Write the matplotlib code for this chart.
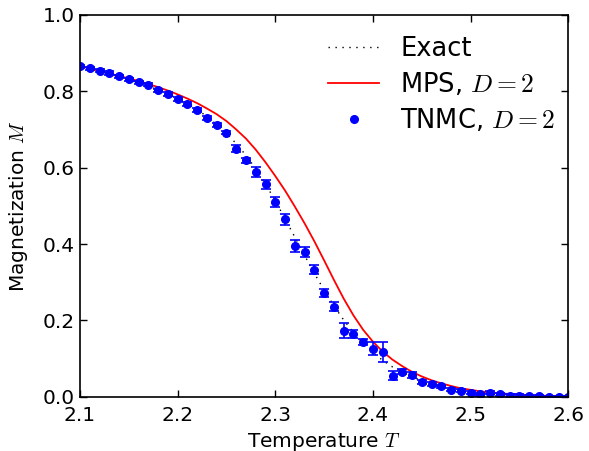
import matplotlib
matplotlib.use("Agg")
import matplotlib.pyplot as plt
import numpy as np

plt.rcParams['mathtext.fontset'] = 'cm'
plt.rcParams['font.family'] = ['DejaVu Sans']

# Exact curve
T_exact = [2.10, 2.11, 2.12, 2.13, 2.14, 2.15, 2.16, 2.17, 2.18, 2.19, 2.20,
           2.21, 2.22, 2.23, 2.24, 2.25, 2.26, 2.27, 2.28, 2.29, 2.30,
           2.31, 2.32, 2.33, 2.34, 2.35, 2.36, 2.37, 2.38, 2.39, 2.40,
           2.41, 2.42, 2.43, 2.44, 2.45, 2.46, 2.47, 2.48, 2.49, 2.50,
           2.51, 2.52, 2.53, 2.54, 2.55, 2.56, 2.57, 2.58, 2.59, 2.60]
M_exact = [0.866, 0.859, 0.852, 0.845, 0.838, 0.830, 0.822, 0.814, 0.804, 0.793, 0.781,
           0.768, 0.752, 0.734, 0.713, 0.690, 0.663, 0.632, 0.597, 0.557, 0.513,
           0.466, 0.418, 0.370, 0.323, 0.279, 0.238, 0.201, 0.168, 0.140, 0.116,
           0.095, 0.078, 0.064, 0.052, 0.042, 0.034, 0.027, 0.022, 0.017, 0.013,
           0.010, 0.008, 0.006, 0.005, 0.004, 0.003, 0.002, 0.002, 0.001, 0.001]

# MPS, D=2
T_mps = [2.10, 2.11, 2.12, 2.13, 2.14, 2.15, 2.16, 2.17, 2.18, 2.19, 2.20,
         2.21, 2.22, 2.23, 2.24, 2.25, 2.26, 2.27, 2.28, 2.29, 2.30,
         2.31, 2.32, 2.33, 2.34, 2.35, 2.36, 2.37, 2.38, 2.39, 2.40,
         2.41, 2.42, 2.43, 2.44, 2.45, 2.46, 2.47, 2.48, 2.49, 2.50,
         2.51, 2.52, 2.53, 2.54, 2.55, 2.56, 2.57, 2.58, 2.59, 2.60]
M_mps = [0.866, 0.860, 0.853, 0.847, 0.840, 0.834, 0.827, 0.819, 0.811, 0.802, 0.792,
         0.781, 0.769, 0.755, 0.740, 0.722, 0.700, 0.676, 0.647, 0.614, 0.578,
         0.540, 0.498, 0.454, 0.407, 0.357, 0.306, 0.257, 0.213, 0.175, 0.144,
         0.118, 0.097, 0.080, 0.065, 0.053, 0.043, 0.035, 0.028, 0.022, 0.018,
         0.014, 0.011, 0.009, 0.007, 0.005, 0.004, 0.003, 0.002, 0.001, 0.001]

# TNMC, D=2
T_mc = [2.10, 2.11, 2.12, 2.13, 2.14, 2.15, 2.16, 2.17, 2.18, 2.19, 2.20,
        2.21, 2.22, 2.23, 2.24, 2.25, 2.26, 2.27, 2.28, 2.29, 2.30,
        2.31, 2.32, 2.33, 2.34, 2.35, 2.36, 2.37, 2.38, 2.39, 2.40,
        2.41, 2.42, 2.43, 2.44, 2.45, 2.46, 2.47, 2.48, 2.49, 2.50,
        2.51, 2.52, 2.53, 2.54, 2.55, 2.56, 2.57, 2.58, 2.59, 2.60]
M_mc = [0.866, 0.860, 0.854, 0.848, 0.839, 0.832, 0.824, 0.817, 0.803, 0.793, 0.781,
        0.767, 0.751, 0.730, 0.711, 0.692, 0.650, 0.619, 0.588, 0.556, 0.510,
        0.465, 0.395, 0.379, 0.333, 0.271, 0.236, 0.173, 0.164, 0.143, 0.125,
        0.118, 0.055, 0.066, 0.057, 0.039, 0.034, 0.027, 0.018, 0.016, 0.010,
        0.006, 0.011, 0.006, 0.003, 0.003, 0.002, 0.001, 0.000, 0.000, 0.000]
E_mc = [0.004, 0.004, 0.004, 0.004, 0.004, 0.004, 0.004, 0.004, 0.004, 0.004, 0.005,
        0.005, 0.005, 0.005, 0.005, 0.005, 0.009, 0.007, 0.013, 0.011, 0.012,
        0.014, 0.015, 0.014, 0.012, 0.010, 0.011, 0.020, 0.011, 0.008, 0.017,
        0.026, 0.012, 0.006, 0.007, 0.005, 0.005, 0.004, 0.004, 0.004, 0.004,
        0.004, 0.004, 0.004, 0.003, 0.003, 0.003, 0.003, 0.003, 0.003, 0.003]

W, H = 589, 451
fig = plt.figure(figsize=(W / 100, H / 100), dpi=100)
ax_w = 568.3 - 80
ax_h = 396.7 - 15
ax = fig.add_axes([80 / W, 1 - 396.7 / H, ax_w / W, ax_h / H])

ax.plot(T_exact, M_exact, color='black', lw=1.0, linestyle=(0, (1, 4)), label='Exact')
ax.plot(T_mps, M_mps, color='red', lw=1.3, label='MPS, $D=2$')
ax.errorbar(T_mc, M_mc, yerr=E_mc, fmt='none', ecolor='blue', elinewidth=1.2,
            capsize=3.6, capthick=1.2, label='_nolegend_')
ax.plot(T_mc, M_mc, linestyle='none', marker='.', color='blue', ms=11,
        label='TNMC, $D=2$')

ax.set_xlim(2.1, 2.6)
ax.set_ylim(0.0, 1.0)
ax.set_xticks([2.1, 2.2, 2.3, 2.4, 2.5, 2.6])
ax.set_yticks([0.0, 0.2, 0.4, 0.6, 0.8, 1.0])
ax.set_xticklabels(['2.1', '2.2', '2.3', '2.4', '2.5', '2.6'])
ax.set_yticklabels(['0.0', '0.2', '0.4', '0.6', '0.8', '1.0'])
ax.tick_params(direction='in', top=True, right=True, length=5, width=1,
               labelsize=14.5)
ax.tick_params(axis='x', pad=7)
ax.tick_params(axis='y', pad=4)
for s in ax.spines.values():
    s.set_linewidth(1.2)

ax.set_xlabel('Temperature $T$', fontsize=14.5, labelpad=4)
ax.set_ylabel('Magnetization $M$', fontsize=14.5, labelpad=9)

leg = ax.legend(loc='upper right', frameon=False, fontsize=18.5, numpoints=1,
                handlelength=2.0, borderaxespad=0.3, labelspacing=0.36,
                bbox_to_anchor=(1 + 5 / ax_w, 1 - 3 / ax_h))

fig.savefig('out.png', dpi=100)
